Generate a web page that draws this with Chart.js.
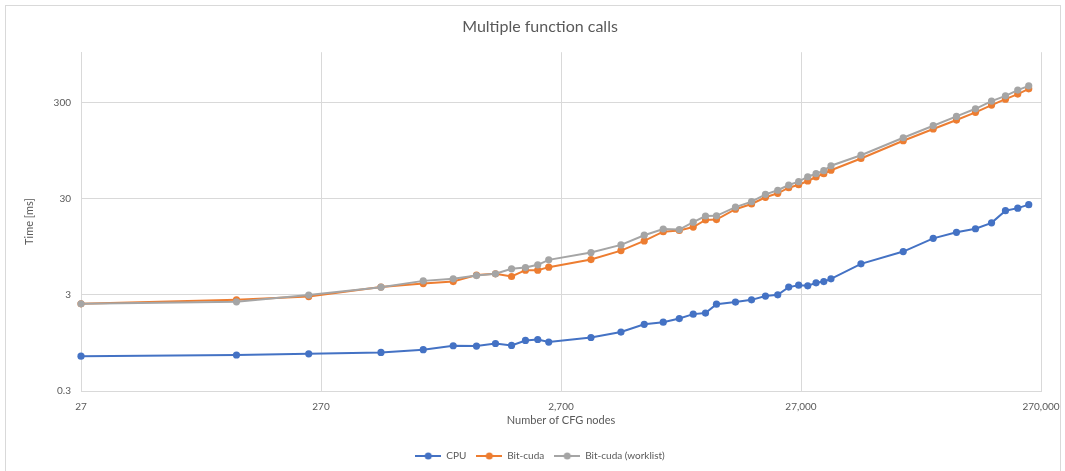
<!DOCTYPE html>
<html>
<head>
<meta charset="utf-8">
<script src="https://cdn.jsdelivr.net/npm/chart.js@4.4.1/dist/chart.umd.min.js"></script>
<style>
  html, body { margin: 0; padding: 0; background: #fff; }
  #wrap { width: 1065px; height: 471px; }
</style>
</head>
<body>
<div id="wrap"><canvas id="chart" width="1065" height="471"></canvas></div>
<script>
// Number of CFG nodes per benchmark run
const nodeCounts = [27, 120, 240, 480, 720, 960, 1200, 1440, 1680, 1920, 2160, 2400,
  3600, 4800, 6000, 7200, 8400, 9600, 10800, 12000,
  14400, 16800, 19200, 21600, 24000, 26400, 28800, 31200, 33600, 36000,
  48000, 72000, 96000, 120000, 144000, 168000, 192000, 216000, 240000];

// Time in milliseconds for each implementation
const cpuMs = [0.69, 0.71, 0.73, 0.755, 0.806, 0.886, 0.88, 0.936, 0.893, 1.006, 1.03, 0.968,
  1.08, 1.23, 1.48, 1.56, 1.70, 1.89, 1.94, 2.40,
  2.52, 2.66, 2.91, 3.0, 3.61, 3.78, 3.72, 4.0, 4.12, 4.40,
  6.30, 8.45, 11.6, 13.4, 14.6, 16.8, 22.5, 23.9, 26.0];
const bitCudaMs = [2.42, 2.66, 2.88, 3.61, 3.93, 4.12, 4.81, 4.96, 4.65, 5.41, 5.41, 5.82,
  6.98, 8.65, 10.9, 13.6, 14.0, 15.2, 18.0, 18.2,
  23.3, 26.4, 31.0, 34.1, 39.0, 41.9, 45.8, 50.4, 54.6, 59.2,
  78.5, 120, 159, 197, 237, 282, 325, 367, 416];
const bitCudaWorklistMs = [2.42, 2.54, 2.98, 3.60, 4.19, 4.40, 4.76, 4.96, 5.59, 5.76, 6.15, 6.93,
  8.25, 9.92, 12.5, 14.5, 14.3, 17.1, 19.8, 19.9,
  24.5, 27.9, 33.3, 36.7, 41.6, 45.1, 50.7, 54.6, 58.6, 66.0,
  84.9, 129, 172, 215, 258, 310, 352, 404, 447];

const seriesNames = ['CPU', 'Bit-cuda', 'Bit-cuda (worklist)'];
const seriesColors = ['#4472C4', '#ED7D31', '#A5A5A5'];

// Axis tick positions
const xTickValues = [27, 270, 2700, 27000, 270000];
const yTickValues = [0.3, 3, 30, 300];

const FONT = "Lato, 'Open Sans', sans-serif";
const TEXT = '#595959';
const GRID = '#D9D9D9';
const PAD_LEFT = 15;

function toPoints(values) {
  return nodeCounts.map((n, i) => ({ x: n, y: values[i] }));
}

// Small line-with-marker swatch used by the legend
function legendSwatch(color) {
  const cv = document.createElement('canvas');
  cv.width = 26; cv.height = 10;
  const g = cv.getContext('2d');
  g.strokeStyle = color; g.lineWidth = 2;
  g.beginPath(); g.moveTo(0, 5); g.lineTo(26, 5); g.stroke();
  g.fillStyle = color;
  g.beginPath(); g.arc(13, 5, 3.5, 0, Math.PI * 2); g.fill();
  return cv;
}

function makeDataset(idx, values, order) {
  return {
    label: seriesNames[idx],
    data: toPoints(values),
    borderColor: seriesColors[idx],
    backgroundColor: seriesColors[idx],
    pointBackgroundColor: seriesColors[idx],
    pointBorderColor: seriesColors[idx],
    pointBorderWidth: 0,
    pointRadius: 3.6,
    borderWidth: 2,
    tension: 0,
    clip: false,
    order: order
  };
}

// Light frame around the whole chart
const chartFrame = {
  id: 'chartFrame',
  beforeDraw(chart) {
    const c = chart.ctx;
    c.save();
    c.fillStyle = '#fff';
    c.fillRect(0, 0, chart.width, chart.height);
    c.strokeStyle = GRID;
    c.lineWidth = 1;
    c.strokeRect(5.5, 5.5, chart.width - 10, chart.height + 10);
    c.restore();
  }
};

new Chart(document.getElementById('chart'), {
  type: 'line',
  data: {
    datasets: [
      makeDataset(0, cpuMs, 2),
      makeDataset(1, bitCudaMs, 1),
      makeDataset(2, bitCudaWorklistMs, 0)
    ]
  },
  plugins: [chartFrame],
  options: {
    responsive: false,
    animation: false,
    devicePixelRatio: 1,
    layout: { padding: { left: PAD_LEFT, right: 0, top: 0, bottom: 0 } },
    plugins: {
      title: {
        display: true,
        text: 'Multiple function calls',
        color: TEXT,
        font: { family: FONT, size: 16, weight: 'normal' },
        padding: { top: 17, bottom: 16 }
      },
      legend: {
        position: 'bottom',
        labels: {
          usePointStyle: true,
          pointStyleWidth: 26,
          boxHeight: 10,
          padding: 10,
          color: TEXT,
          font: { family: FONT, size: 10 },
          generateLabels(chart) {
            return chart.data.datasets.map((ds, i) => ({
              text: ds.label,
              pointStyle: legendSwatch(seriesColors[i]),
              fillStyle: seriesColors[i],
              strokeStyle: seriesColors[i],
              lineWidth: 0,
              fontColor: TEXT,
              hidden: false,
              datasetIndex: i
            }));
          }
        }
      },
      tooltip: { enabled: false }
    },
    scales: {
      x: {
        type: 'logarithmic',
        position: 'bottom',
        min: 27,
        max: 270000,
        bounds: 'data',
        afterBuildTicks(scale) { scale.ticks = xTickValues.map(v => ({ value: v })); },
        afterFit(scale) {
          const lg = scale.chart.legend;
          scale.height = scale.chart.height - 391 - (lg ? lg.height : 30);
          scale.paddingLeft = 0;
          scale.paddingRight = 24;
        },
        ticks: {
          autoSkip: false,
          maxRotation: 0,
          padding: 10,
          color: TEXT,
          font: { family: FONT, size: 10 },
          callback: v => Number(v).toLocaleString('en-US')
        },
        grid: { color: GRID, drawTicks: false },
        border: { color: GRID },
        title: {
          display: true,
          text: 'Number of CFG nodes',
          color: TEXT,
          font: { family: FONT, size: 11 },
          padding: { top: 0, bottom: 14 }
        }
      },
      y: {
        type: 'logarithmic',
        min: 0.3,
        max: 1000,
        bounds: 'data',
        afterBuildTicks(scale) { scale.ticks = yTickValues.map(v => ({ value: v })); },
        afterFit(scale) {
          scale.width = 81 - PAD_LEFT;
          scale.paddingTop = 0;
          scale.paddingBottom = 0;
        },
        ticks: {
          padding: 10,
          color: TEXT,
          font: { family: FONT, size: 10 },
          callback: v => String(v)
        },
        grid: { color: GRID, drawTicks: false },
        border: { color: GRID },
        title: {
          display: true,
          text: 'Time [ms]',
          color: TEXT,
          font: { family: FONT, size: 11 },
          padding: { top: 23 - PAD_LEFT, bottom: 0 }
        }
      }
    }
  }
});
</script>
</body>
</html>
